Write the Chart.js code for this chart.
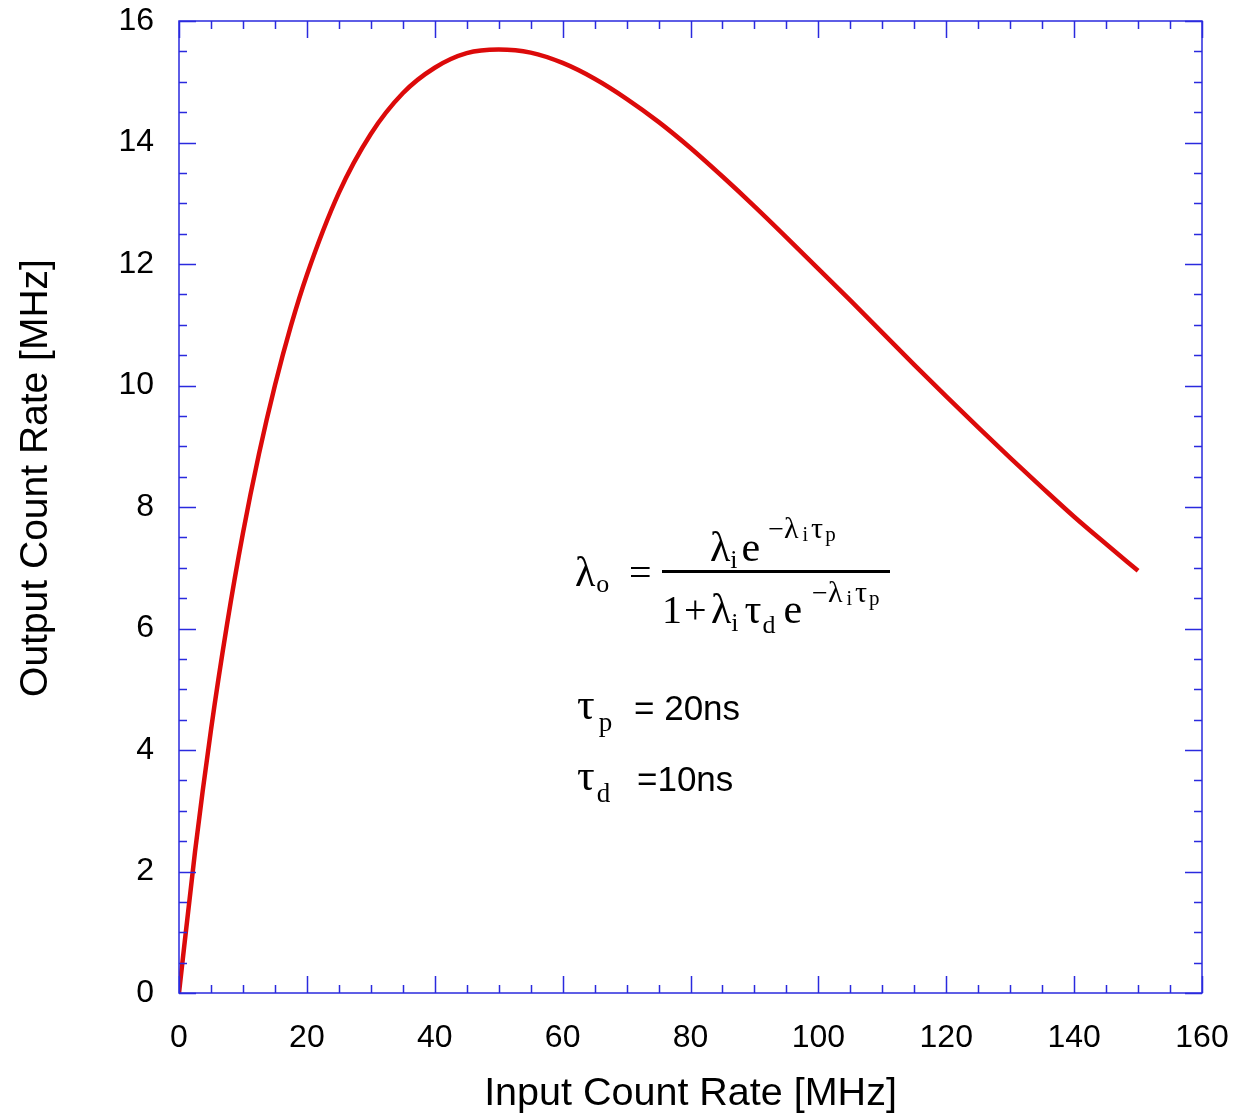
<!DOCTYPE html>
<html>
<head>
<meta charset="utf-8">
<script src="https://cdn.jsdelivr.net/npm/chart.js@4/dist/chart.umd.min.js"></script>
<style>
  html, body { margin: 0; padding: 0; background: #fff; }
  #wrap { width: 1235px; height: 1118px; }
</style>
</head>
<body>
<div id="wrap"><canvas id="rateChart"></canvas></div>
<script>
// input count rate [MHz] and output count rate [MHz]
var inputRate = [0, 2.5, 5, 7.5, 10, 12.5, 15, 17.5, 20, 25, 30, 35, 40, 45, 50, 55, 60, 65, 70, 75,
  80, 85, 90, 95, 100, 105, 110, 115, 120, 125, 130, 135, 140, 145, 150];
var outputRate = [0, 2.32, 4.33, 6.06, 7.57, 8.87, 10.0, 10.98, 11.82, 13.17, 14.14, 14.81, 15.23, 15.47, 15.53, 15.48, 15.31, 15.05, 14.72, 14.34,
  13.91, 13.44, 12.95, 12.44, 11.92, 11.40, 10.87, 10.34, 9.82, 9.31, 8.81, 8.32, 7.84, 7.39, 6.95];
var xTicks = [0, 20, 40, 60, 80, 100, 120, 140, 160];
var yTicks = [0, 2, 4, 6, 8, 10, 12, 14, 16];

var axisBlue = '#2a2ade';
var sans = '"Liberation Sans", Arial, Helvetica, sans-serif';
var serif = '"Liberation Serif", "Times New Roman", serif';

// draw a run of text pieces: [text, size, dy, gapAfter]
function drawRun(ctx, x, y, parts, family) {
  parts.forEach(function(p) {
    ctx.font = p[1] + 'px ' + (family || serif);
    ctx.fillText(p[0], x, y + p[2]);
    x += ctx.measureText(p[0]).width + (p[3] || 0);
  });
  return x;
}

var frameTicks = {
  id: 'frameTicks',
  afterDatasetsDraw: function(chart) {
    var ctx = chart.ctx, a = chart.chartArea;
    var xs = chart.scales.x, ys = chart.scales.y;
    ctx.save();
    ctx.strokeStyle = axisBlue;
    ctx.lineWidth = 1.5;
    ctx.strokeRect(a.left, a.top, a.right - a.left, a.bottom - a.top);
    ctx.beginPath();
    for (var v = 0; v <= 160; v += 5) {
      var px = Math.round(xs.getPixelForValue(v)) + 0.5;
      var len = v % 20 === 0 ? 17 : 8;
      ctx.moveTo(px, a.bottom); ctx.lineTo(px, a.bottom - len);
      ctx.moveTo(px, a.top); ctx.lineTo(px, a.top + len);
    }
    for (var w = 0; w <= 16; w += 0.5) {
      var py = Math.round(ys.getPixelForValue(w)) + 0.5;
      var l2 = w % 2 === 0 ? 17 : 8;
      ctx.moveTo(a.left, py); ctx.lineTo(a.left + l2, py);
      ctx.moveTo(a.right, py); ctx.lineTo(a.right - l2, py);
    }
    ctx.stroke();

    // y axis title
    ctx.fillStyle = '#000';
    ctx.font = '39px ' + sans;
    ctx.textAlign = 'center';
    ctx.textBaseline = 'alphabetic';
    ctx.translate(47, 478);
    ctx.rotate(-Math.PI / 2);
    ctx.fillText('Output Count Rate [MHz]', 0, 0);
    ctx.restore();

    // formula annotation
    ctx.save();
    ctx.fillStyle = '#000';
    ctx.textAlign = 'left';
    ctx.textBaseline = 'alphabetic';
    drawRun(ctx, 575, 586, [['λ', 42, 0, 1], ['o', 26, 6]]);
    drawRun(ctx, 629, 586, [['=', 40, 0]]);
    drawRun(ctx, 710, 561, [['λ', 42, 0], ['i', 26, 7, 4], ['e', 42, 0, 8],
      ['−', 28, -23], ['λ', 30, -23, 4], ['i', 20, -20, 3], ['τ', 30, -23, 2], ['p', 21, -20]]);
    ctx.fillRect(662, 570, 228, 3);
    drawRun(ctx, 662, 623, [['1', 40, 0]]);
    drawRun(ctx, 684, 623, [['+', 40, 0]]);
    drawRun(ctx, 711, 623, [['λ', 42, 0], ['i', 26, 8, 6], ['τ', 42, 0, 1], ['d', 26, 10, 8],
      ['e', 42, 0, 10], ['−', 28, -21], ['λ', 30, -21, 4], ['i', 20, -18, 3], ['τ', 30, -21, 2], ['p', 21, -18]]);
    drawRun(ctx, 577, 719, [['τ', 44, 0, 4], ['p', 27, 12]]);
    drawRun(ctx, 634, 720, [['= 20ns', 35, 0]], sans);
    drawRun(ctx, 577, 790, [['τ', 44, 0, 2], ['d', 27, 12]]);
    drawRun(ctx, 637, 791, [['=10ns', 35, 0]], sans);
    ctx.restore();
  }
};

new Chart(document.getElementById('rateChart'), {
  type: 'line',
  data: {
    datasets: [{
      label: 'Output count rate',
      data: inputRate.map(function(x, i) { return {x: x, y: outputRate[i]}; }),
      borderColor: '#dc0a0a',
      borderWidth: 4.5,
      pointRadius: 0,
      fill: false,
      cubicInterpolationMode: 'monotone'
    }]
  },
  plugins: [frameTicks],
  options: {
    responsive: true,
    maintainAspectRatio: false,
    animation: false,
    layout: { padding: 0 },
    plugins: { legend: { display: false }, tooltip: { enabled: false } },
    scales: {
      x: {
        type: 'linear',
        min: 0, max: 160,
        afterBuildTicks: function(s) { s.ticks = xTicks.map(function(v) { return {value: v}; }); },
        afterFit: function(s) { s.height = 125; s.paddingLeft = 0; s.paddingRight = 33; },
        grid: { display: false, drawTicks: false },
        border: { display: false },
        ticks: { color: '#000', font: { family: sans, size: 32 }, padding: 26, maxRotation: 0 },
        title: { display: true, text: 'Input Count Rate [MHz]', color: '#000', font: { family: sans, size: 39.5 }, padding: { top: 10, bottom: 0 } }
      },
      y: {
        type: 'linear',
        min: 0, max: 16,
        afterBuildTicks: function(s) { s.ticks = yTicks.map(function(v) { return {value: v}; }); },
        afterFit: function(s) { s.width = 179; s.paddingTop = 21; s.paddingBottom = 0; },
        grid: { display: false, drawTicks: false },
        border: { display: false },
        ticks: { color: '#000', font: { family: sans, size: 32 }, padding: 25 }
      }
    }
  }
});
</script>
</body>
</html>
